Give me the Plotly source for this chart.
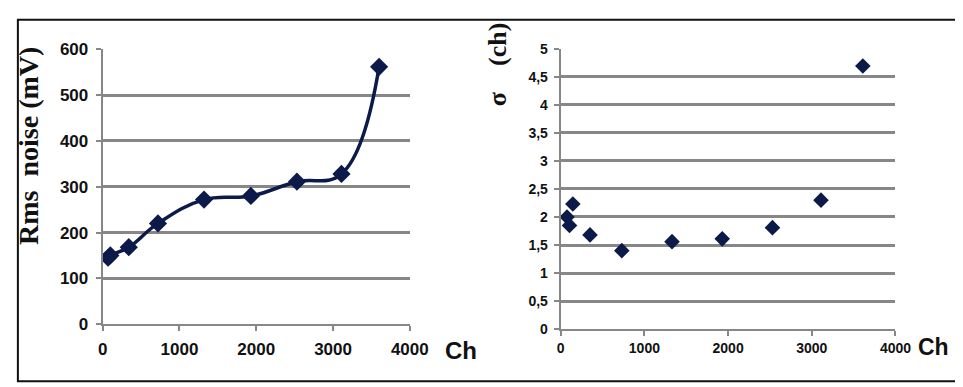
import plotly.graph_objects as go

# Left panel: RMS noise vs channel
ch_rms = [70, 100, 340, 720, 1320, 1930, 2530, 3110, 3600]
rms_mv = [145, 150, 168, 220, 272, 280, 311, 328, 562]

# Right panel: sigma vs channel
ch_sigma = [75, 105, 145, 350, 730, 1330, 1930, 2530, 3110, 3610]
sigma_ch = [2.0, 1.85, 2.23, 1.68, 1.40, 1.56, 1.61, 1.81, 2.30, 4.69]

left_yticks = [0, 100, 200, 300, 400, 500, 600]
right_yticks = [0, 0.5, 1, 1.5, 2, 2.5, 3, 3.5, 4, 4.5, 5]
right_ytext = ["0", "0,5", "1", "1,5", "2", "2,5", "3", "3,5", "4", "4,5", "5"]
xticks = [0, 1000, 2000, 3000, 4000]

navy = "#0b1a48"
grid = "#878787"
sans = "Liberation Sans Narrow, Arial Narrow, Liberation Sans"
tickfont_l = dict(family=sans, size=17, color="#111", weight="bold")
tickfont_r = dict(family=sans, size=14, color="#111", weight="bold")

fig = go.Figure()
fig.add_trace(go.Scatter(
    x=ch_rms, y=rms_mv, mode="lines+markers",
    line=dict(color=navy, width=3.5, shape="spline", smoothing=1.2),
    marker=dict(symbol="diamond", size=14, color=navy),
    xaxis="x", yaxis="y", showlegend=False))
fig.add_trace(go.Scatter(
    x=ch_sigma, y=sigma_ch, mode="markers",
    marker=dict(symbol="diamond", size=12, color=navy),
    xaxis="x2", yaxis="y2", showlegend=False))

axcommon = dict(showline=True, linecolor=grid, linewidth=2, ticks="outside",
                tickcolor=grid, tickwidth=2, ticklen=5, zeroline=False)

fig.update_layout(
    width=963, height=387,
    margin=dict(l=0, r=0, t=0, b=0),
    paper_bgcolor="white", plot_bgcolor="white",
    xaxis=dict(domain=[0.0955, 0.4226], range=[0, 4000], tickvals=xticks,
               showgrid=False, tickfont=tickfont_l, ticklabelstandoff=3, **axcommon),
    yaxis=dict(domain=[0.1654, 0.912], range=[0, 600], tickvals=left_yticks,
               showgrid=True, gridcolor=grid, gridwidth=2.5,
               tickfont=tickfont_l, ticklabelstandoff=4, **axcommon),
    xaxis2=dict(domain=[0.5833, 0.9398], range=[0, 4000], tickvals=xticks,
                showgrid=False, tickfont=tickfont_r, anchor="y2", **axcommon),
    yaxis2=dict(domain=[0.1517, 0.914], range=[0, 5], tickvals=right_yticks,
                ticktext=right_ytext, showgrid=True, gridcolor=grid, gridwidth=2.5,
                tickfont=tickfont_r, anchor="x2", ticklabelstandoff=3, **axcommon),
)

fig.add_annotation(text="<b>Rms  noise (mV)</b>", xref="paper", yref="paper",
                   x=16 / 963, y=1 - 136 / 387, textangle=-90, showarrow=False,
                   xanchor="center", yanchor="middle",
                   font=dict(family="Liberation Serif, Times New Roman", size=28, color="#111"))
fig.add_annotation(text="<b>σ    (ch)</b>", xref="paper", yref="paper",
                   x=497 / 963, y=1 - 50 / 387, textangle=-90, showarrow=False,
                   xanchor="center", yanchor="middle",
                   font=dict(family="Liberation Serif, Times New Roman", size=26, color="#111"))
fig.add_annotation(text="<b>Ch</b>", xref="paper", yref="paper",
                   x=459 / 963, y=1 - 351 / 387, showarrow=False,
                   xanchor="center", yanchor="middle",
                   font=dict(family=sans, size=24, color="#111"))
fig.add_annotation(text="<b>Ch</b>", xref="paper", yref="paper",
                   x=944 / 963, y=1 - 347 / 387, showarrow=False,
                   xanchor="center", yanchor="middle",
                   font=dict(family=sans, size=23, color="#111"))

# outer frame
fig.add_shape(type="rect", xref="paper", yref="paper",
              x0=5 / 963, x1=1.01, y0=1 - 383 / 387, y1=1 - 3 / 387,
              line=dict(color="#111", width=2))

fig.write_html("out.html")
